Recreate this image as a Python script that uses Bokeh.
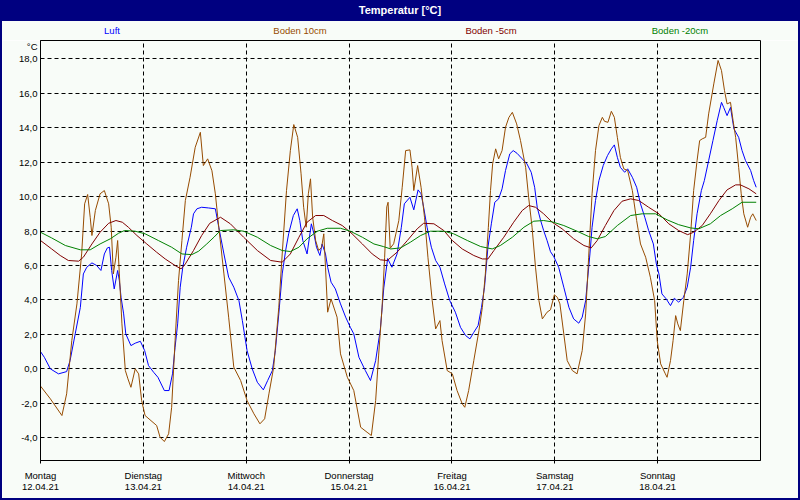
from bokeh.plotting import figure
from bokeh.models import Range1d, FixedTicker, LinearAxis, Div
from bokeh.layouts import column, row
from bokeh.embed import file_html
from bokeh.resources import INLINE

# ---------------- data (hours since Mon 12.04.21 00:00) ----------------
luft_h = [0.0, 0.9, 2.3, 4.2, 6.1, 6.9, 8.1, 9.3, 10.0, 10.8, 12.0, 13.1, 14.1, 14.9, 15.6, 16.1, 16.6, 17.2, 18.0, 18.4,
          18.8, 19.4, 19.9, 21.1, 22.1, 23.3, 24.3, 25.2, 26.4, 27.4, 28.9, 30.0, 30.8, 31.4, 32.0, 32.6, 33.2, 34.1, 35.2, 35.7,
          36.5, 37.6, 39.2, 40.8, 41.6, 42.8, 43.9, 45.1, 46.3, 47.1, 48.2, 49.4, 50.6, 52.0, 53.0, 54.1, 54.8, 55.6, 56.4, 57.2,
          57.9, 59.0, 59.9, 60.5, 61.2, 62.2, 63.2, 63.8, 64.4, 65.2, 65.7, 66.5, 67.0, 67.8, 68.8, 70.0, 71.2, 72.3, 73.1, 74.3,
          75.8, 77.0, 78.2, 79.3, 80.1, 81.0, 82.0, 83.2, 84.2, 84.9, 86.2, 87.1, 88.1, 88.8, 89.4, 90.2, 91.2, 92.2, 93.2, 94.3,
          95.5, 96.8, 98.0, 99.2, 100.2, 101.1, 102.1, 102.9, 103.6, 104.4, 105.2, 106.0, 106.9, 107.7, 108.5, 109.5, 110.3, 111.2, 112.4, 113.5,
          114.5, 115.3, 115.9, 116.7, 117.4, 118.2, 119.0, 119.8, 120.9, 122.1, 123.3, 124.4, 125.6, 126.4, 127.2, 127.7, 128.2, 128.7, 129.5, 130.3,
          131.3, 132.3, 133.2, 133.9, 134.6, 135.3, 136.3, 137.0, 138.1, 139.1, 140.0, 141.0, 141.9, 143.0, 143.7, 144.3, 145.0, 146.0, 147.0, 147.9,
          148.9, 150.0, 150.9, 151.7, 152.4, 153.2, 154.2, 154.9, 155.9, 156.9, 157.9, 158.9, 159.4, 160.2, 161.0, 161.8, 162.9, 163.7, 164.5, 165.7,
          166.4, 167.0]
luft_t = [1.0, 0.67, 0.0, -0.29, -0.16, 0.48, 2.03, 3.57, 5.51, 5.9, 6.15, 6.0, 5.71, 6.67, 7.02, 7.06, 5.71, 4.64, 5.71, 5.12,
          4.15, 3.19, 2.03, 1.35, 1.49, 1.6, 1.06, 0.19, -0.2, -0.49, -1.26, -1.26, -0.29, 1.25, 2.61, 4.74, 5.9, 7.06, 8.22, 9.0,
          9.29, 9.38, 9.34, 9.29, 8.22, 6.67, 5.32, 4.74, 3.96, 2.8, 1.06, 0.0, -0.78, -1.22, -0.68, -0.1, 1.06, 3.19, 5.51, 6.87,
          7.84, 8.9, 9.29, 8.61, 7.45, 6.67, 8.42, 7.84, 7.06, 6.58, 7.25, 6.67, 5.9, 5.03, 4.64, 3.77, 3.0, 2.41, 2.03, 0.67,
          -0.1, -0.68, 0.48, 2.3, 4.7, 6.4, 5.9, 6.67, 8.22, 9.58, 9.96, 9.23, 10.39, 10.16, 9.38, 8.22, 7.06, 6.29, 5.9, 4.93,
          3.96, 3.29, 2.41, 1.93, 1.74, 2.12, 2.51, 3.57, 4.74, 7.06, 8.42, 9.67, 9.87, 10.45, 11.51, 12.48, 12.67, 12.51, 12.19, 11.9,
          11.41, 10.54, 9.38, 8.61, 8.03, 7.45, 6.8, 6.5, 5.9, 4.74, 3.57, 2.9, 2.65, 3.0, 3.96, 5.32, 6.67, 8.22, 9.77, 10.93,
          11.8, 12.38, 12.77, 13.0, 12.28, 11.7, 11.41, 11.61, 11.12, 10.54, 9.58, 8.8, 8.03, 7.25, 6.09, 5.51, 4.35, 4.06, 3.67, 4.1,
          3.87, 4.15, 4.74, 5.9, 7.45, 9.0, 10.35, 10.93, 12.09, 13.25, 14.41, 15.47, 15.18, 14.7, 15.18, 13.93, 13.44, 12.67, 12.09, 11.51,
          10.93, 10.54]

b10_h = [0.0, 2.3, 5.0, 6.1, 7.3, 8.5, 9.6, 10.3, 11.0, 11.6, 12.0, 12.8, 13.9, 14.9, 15.9, 16.5, 17.0, 17.6, 18.0, 18.4,
         19.0, 19.8, 20.4, 21.1, 22.1, 22.9, 23.6, 24.4, 27.1, 27.9, 28.9, 29.9, 30.6, 31.4, 32.2, 33.0, 33.8, 34.9, 36.1, 37.3,
         38.0, 39.0, 40.0, 40.8, 41.6, 42.8, 43.9, 45.1, 46.7, 48.2, 49.8, 51.2, 52.3, 53.3, 54.4, 55.6, 56.4, 57.4, 58.3, 59.1,
         60.0, 60.8, 61.4, 62.0, 62.5, 63.0, 63.5, 64.2, 64.9, 65.6, 66.1, 66.5, 67.0, 67.8, 69.2, 70.0, 71.6, 73.1, 74.7, 76.2,
         77.2, 78.2, 78.9, 79.7, 80.3, 80.8, 81.1, 81.6, 82.4, 83.6, 84.4, 85.2, 86.2, 86.7, 87.1, 88.0, 88.8, 89.6, 90.4, 91.4,
         92.2, 93.2, 93.7, 94.9, 96.1, 97.2, 98.4, 99.0, 99.9, 101.1, 102.3, 103.1, 103.8, 104.5, 105.0, 105.5, 106.2, 106.9, 107.7, 108.5,
         109.3, 110.1, 111.1, 112.0, 113.2, 113.9, 114.7, 115.5, 116.3, 117.1, 118.2, 119.0, 119.9, 120.6, 121.2, 122.1, 122.9, 124.1, 125.2, 126.4,
         127.2, 127.9, 128.7, 129.5, 130.3, 131.1, 131.6, 132.4, 133.2, 133.9, 134.6, 135.3, 136.1, 137.0, 138.1, 139.1, 140.0, 141.2, 142.3, 143.3,
         143.9, 144.7, 145.8, 146.2, 147.0, 147.6, 148.2, 148.7, 149.3, 150.1, 150.9, 151.7, 152.4, 153.2, 153.8, 154.4, 155.2, 155.9, 157.1, 158.1,
         158.9, 159.6, 160.2, 161.0, 161.6, 162.2, 162.9, 163.5, 164.1, 165.0, 165.7, 166.2, 167.0]
b10_t = [-1.0, -1.74, -2.71, -1.45, 1.64, 3.77, 6.67, 9.58, 10.12, 8.8, 7.74, 9.19, 10.16, 10.35, 9.58, 8.22, 5.51, 6.48, 7.45, 5.51,
         2.61, -0.1, -0.58, -1.07, 0.0, -0.29, -1.84, -2.71, -3.29, -3.97, -4.22, -3.77, -2.23, 1.64, 5.12, 7.45, 9.77, 11.12, 12.86, 13.73,
         11.8, 12.19, 11.5, 10.16, 8.22, 5.51, 3.0, 0.1, -0.68, -1.84, -2.61, -3.19, -2.9, -1.45, 0.08, 3.57, 6.67, 10.35, 12.67, 14.18,
         13.44, 11.32, 9.38, 8.22, 10.16, 11.03, 8.8, 7.45, 6.87, 7.06, 7.84, 5.9, 3.29, 4.06, 3.0, 0.87, -0.49, -1.26, -3.39, -3.68,
         -3.87, -1.84, 0.8, 3.57, 6.48, 9.4, 9.67, 7.0, 7.26, 8.6, 10.54, 12.67, 12.71, 11.7, 10.35, 11.8, 10.54, 8.8, 6.48, 3.96,
         2.32, 2.8, 1.64, -0.1, -0.29, -1.26, -2.03, -2.23, -1.26, 0.48, 2.22, 3.57, 5.51, 8.22, 10.35, 11.9, 12.77, 12.19, 12.67, 14.02,
         14.6, 14.89, 14.22, 13.25, 11.7, 9.96, 8.22, 5.9, 3.96, 2.9, 3.29, 3.43, 4.3, 4.15, 3.77, 2.03, 0.48, -0.1, -0.29, 1.06,
         3.19, 6.48, 10.16, 12.67, 14.12, 14.6, 14.37, 14.31, 14.95, 14.6, 13.44, 12.28, 11.61, 11.51, 10.35, 8.61, 7.25, 6.48, 5.32, 3.96,
         1.64, 0.29, -0.29, -0.49, 0.48, 1.64, 3.09, 2.61, 2.22, 3.96, 5.51, 7.84, 10.35, 12.09, 13.25, 13.35, 13.44, 14.8, 16.54, 17.9,
         17.31, 16.15, 15.38, 15.47, 14.41, 13.44, 11.7, 10.16, 9.0, 8.22, 8.8, 9.0, 8.61]

b5_h = [0.0, 2.6, 4.6, 6.5, 8.9, 10.0, 12.0, 13.9, 15.9, 17.6, 19.1, 20.5, 22.5, 24.8, 27.1, 29.1, 31.4, 32.8, 33.8, 35.7,
        37.6, 39.5, 42.0, 44.3, 47.4, 50.6, 53.7, 56.4, 58.3, 60.3, 62.2, 64.2, 66.1, 68.1, 70.4, 72.7, 75.1, 77.4, 79.3, 80.9,
        83.2, 85.6, 87.9, 89.4, 91.8, 94.1, 96.1, 98.4, 101.1, 103.1, 104.4, 105.8, 108.1, 110.4, 112.4, 113.9, 115.5, 117.4, 119.4, 121.7,
        124.4, 126.8, 128.5, 129.9, 131.8, 133.8, 135.7, 137.7, 139.6, 141.9, 144.3, 146.6, 148.9, 151.0, 152.4, 154.4, 156.3, 158.3, 160.2, 162.2,
        163.3, 165.3, 167.0]
b5_t = [7.45, 6.96, 6.58, 6.29, 6.25, 6.48, 7.25, 7.93, 8.45, 8.61, 8.51, 8.22, 7.74, 7.25, 6.77, 6.38, 6.0, 5.8, 6.09, 6.87,
        7.74, 8.45, 8.8, 8.42, 7.64, 6.87, 6.29, 6.19, 6.67, 7.64, 8.51, 8.9, 8.9, 8.61, 8.32, 7.84, 7.25, 6.67, 6.33, 6.29,
        6.77, 7.45, 8.13, 8.45, 8.42, 8.03, 7.45, 6.96, 6.58, 6.38, 6.38, 6.87, 7.64, 8.51, 9.19, 9.48, 9.38, 9.0, 8.51, 8.13,
        7.55, 7.16, 7.02, 7.45, 8.32, 9.19, 9.73, 9.87, 9.77, 9.38, 9.0, 8.42, 8.03, 7.79, 7.93, 8.32, 9.0, 9.77, 10.39, 10.68,
        10.68, 10.45, 10.16]

b20_h = [0.0, 2.6, 5.8, 9.3, 11.6, 13.9, 16.3, 18.2, 19.6, 22.1, 24.4, 27.5, 30.6, 33.0, 35.3, 36.9, 38.8, 40.5, 42.0, 45.1,
         47.4, 50.6, 53.7, 56.4, 58.3, 60.3, 62.2, 64.6, 66.9, 70.0, 72.3, 75.1, 77.8, 80.0, 81.7, 84.0, 86.3, 88.7, 91.0, 94.1,
         96.4, 99.6, 102.7, 105.4, 107.3, 110.1, 112.8, 115.1, 117.4, 119.4, 122.1, 125.2, 127.9, 129.9, 131.8, 134.6, 137.7, 140.4, 143.5, 146.2,
         148.9, 151.7, 153.6, 156.3, 158.7, 161.4, 163.7, 167.0]
b20_t = [7.93, 7.6, 7.16, 6.91, 6.91, 7.25, 7.55, 7.87, 8.03, 7.99, 7.84, 7.45, 7.06, 6.67, 6.63, 6.83, 7.25, 7.65, 8.03, 8.07,
         7.99, 7.64, 7.16, 6.87, 6.81, 7.06, 7.55, 7.99, 8.16, 8.16, 7.99, 7.64, 7.25, 7.1, 6.96, 7.02, 7.35, 7.74, 7.99, 7.99,
         7.84, 7.45, 7.1, 6.96, 7.16, 7.64, 8.22, 8.57, 8.61, 8.53, 8.32, 7.99, 7.68, 7.55, 7.68, 8.32, 8.9, 9.0, 9.0, 8.65,
         8.37, 8.18, 8.13, 8.42, 8.9, 9.29, 9.67, 9.67]

series_names = ["Luft", "Boden 10cm", "Boden -5cm", "Boden -20cm"]
day_names = ["Montag", "Dienstag", "Mittwoch", "Donnerstag", "Freitag", "Samstag", "Sonntag"]
day_dates = ["12.04.21", "13.04.21", "14.04.21", "15.04.21", "16.04.21", "17.04.21", "18.04.21"]
y_ticks = [-4, -2, 0, 2, 4, 6, 8, 10, 12, 14, 16, 18]
unit_text = "°C"
title_text = "Temperatur [°C]"

# ---------------- styling ----------------
FONT = "Liberation Sans"
FS = "9.5px"
BG = "#F8FCF8"
NAVY = "#000080"
colors = ["#0000FF", "#964B00", "#800000", "#008000"]
legend_px = [112, 300, 491, 680]          # horizontal centres of the legend texts (layout)
day_ticks = [24 * i for i in range(len(day_names))]
unit_pos = 18.75                          # where the unit label sits on the y axis

p = figure(width=796, height=458, x_range=Range1d(0, 168), y_range=Range1d(-5.32, 19.06),
           output_backend="svg", toolbar_location=None,
           min_border_left=38, min_border_right=38, min_border_top=0, min_border_bottom=38)
p.background_fill_color = BG
p.border_fill_color = BG
p.outline_line_color = "black"
p.outline_line_width = 1

for (xs, ys), c in zip([(luft_h, luft_t), (b10_h, b10_t), (b5_h, b5_t), (b20_h, b20_t)], colors):
    p.line(xs, ys, line_color=c, line_width=1)

# y axis (with unit label as the top-most entry)
ylab = {t: f"{t:.1f}".replace(".", ",") for t in y_ticks}
ylab[unit_pos] = unit_text
p.yaxis.ticker = FixedTicker(ticks=y_ticks + [unit_pos])
p.yaxis.major_label_overrides = ylab
p.yaxis.major_tick_out = 0
p.yaxis.major_tick_in = 0
p.yaxis.minor_tick_line_color = None
p.yaxis.major_label_standoff = 3
p.yaxis.axis_line_color = "black"
p.yaxis.major_label_text_font = FONT
p.yaxis.major_label_text_font_size = FS
p.yaxis.major_label_text_color = "black"

# x axis (day names)
p.xaxis.ticker = FixedTicker(ticks=day_ticks)
p.xaxis.major_label_overrides = {t: n for t, n in zip(day_ticks, day_names)}
p.xaxis.major_tick_out = 3
p.xaxis.major_tick_in = 0
p.xaxis.major_tick_line_color = "black"
p.xaxis.minor_tick_line_color = None
p.xaxis.major_label_standoff = 6
p.xaxis.axis_line_color = "black"
p.xaxis.major_label_text_font = FONT
p.xaxis.major_label_text_font_size = FS
p.xaxis.major_label_text_color = "black"

# second row of x labels (dates)
ax2 = LinearAxis(ticker=FixedTicker(ticks=day_ticks),
                 major_label_overrides={t: d for t, d in zip(day_ticks, day_dates)})
ax2.major_tick_out = 0
ax2.major_tick_in = 0
ax2.minor_tick_line_color = None
ax2.axis_line_color = None
ax2.major_label_standoff = 0
ax2.major_label_text_font = FONT
ax2.major_label_text_font_size = FS
ax2.major_label_text_color = "black"
p.add_layout(ax2, "below")

# grids
p.xgrid.ticker = FixedTicker(ticks=day_ticks[1:])
p.ygrid.ticker = FixedTicker(ticks=y_ticks)
for g in (p.xgrid, p.ygrid):
    g.grid_line_color = "black"
    g.grid_line_dash = "4 3"
    g.grid_line_width = 1

# title bar
title = Div(text=title_text, width=800, height=21, margin=0,
            styles={"background-color": NAVY, "color": "white", "text-align": "center",
                    "font-family": FONT, "font-size": "11px", "font-weight": "bold",
                    "line-height": "21px"})

# legend row (coloured series names), with the navy side frame
spans = "".join(
    f'<span style="position:absolute;left:{x - 2}px;top:4px;transform:translateX(-50%);'
    f'color:{c};white-space:nowrap;">{n}</span>'
    for n, c, x in zip(series_names, colors, legend_px))
legend = Div(text=(f'<div style="position:relative;box-sizing:border-box;width:800px;height:19px;'
                   f'border-left:2px solid {NAVY};border-right:2px solid {NAVY};">{spans}</div>'),
             width=800, height=19, margin=0,
             styles={"background-color": BG, "font-family": FONT, "font-size": FS,
                     "line-height": "12px"})

def bar(w, h):
    return Div(text="", width=w, height=h, margin=0, styles={"background-color": NAVY})

body = row(bar(2, 458), p, bar(2, 458), spacing=0, margin=0)
layout = column(title, legend, body, bar(800, 2), spacing=0)

open("out.html", "w").write(file_html(layout, INLINE))
